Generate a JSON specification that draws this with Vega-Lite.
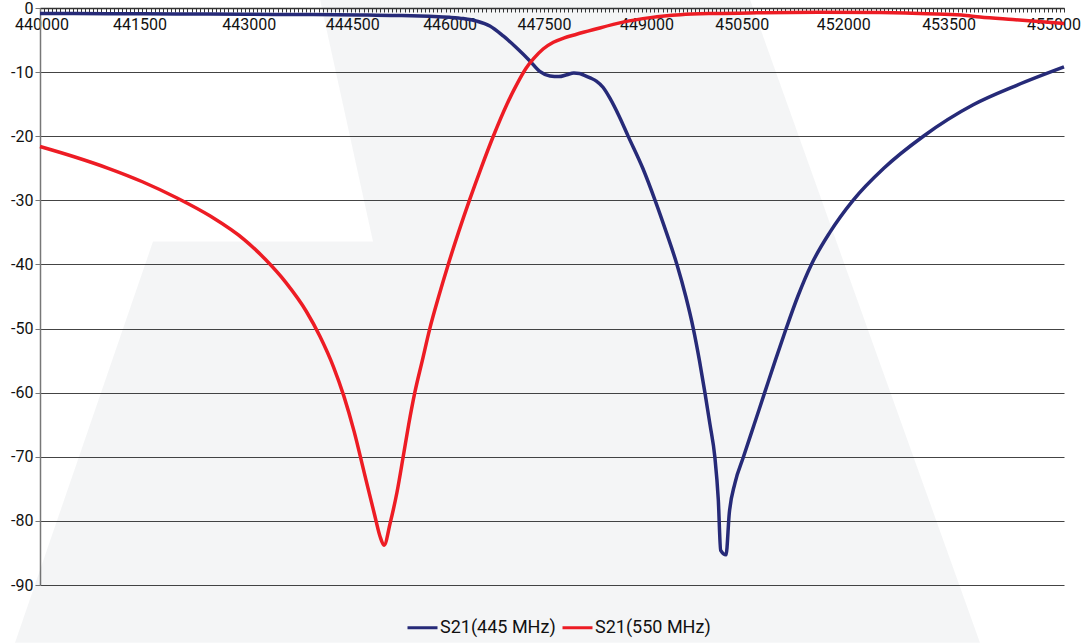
{
  "$schema": "https://vega.github.io/schema/vega-lite/v6.json",
  "width": 1024,
  "height": 577,
  "autosize": {"type": "none"},
  "padding": {"left": 40, "top": 8, "right": 22, "bottom": 58},
  "background": "white",
  "config": {"font": "Roboto", "view": {"stroke": null}},
  "encoding": {
    "x": {
      "field": "f",
      "type": "quantitative",
      "scale": {"domain": [440000, 455000], "nice": false, "zero": false},
      "axis": {
        "orient": "bottom",
        "offset": -577,
        "title": null,
        "grid": false,
        "values": [440000,440060,440120,440180,440240,440300,440360,440420,440480,440540,440600,440660,440720,440780,440840,440900,440960,441020,441080,441140,441200,441260,441320,441380,441440,
          441500,441560,441620,441680,441740,441800,441860,441920,441980,442040,442100,442160,442220,442280,442340,442400,442460,442520,442580,442640,442700,442760,442820,442880,442940,
          443000,443060,443120,443180,443240,443300,443360,443420,443480,443540,443600,443660,443720,443780,443840,443900,443960,444020,444080,444140,444200,444260,444320,444380,444440,
          444500,444560,444620,444680,444740,444800,444860,444920,444980,445040,445100,445160,445220,445280,445340,445400,445460,445520,445580,445640,445700,445760,445820,445880,445940,
          446000,446060,446120,446180,446240,446300,446360,446420,446480,446540,446600,446660,446720,446780,446840,446900,446960,447020,447080,447140,447200,447260,447320,447380,447440,
          447500,447560,447620,447680,447740,447800,447860,447920,447980,448040,448100,448160,448220,448280,448340,448400,448460,448520,448580,448640,448700,448760,448820,448880,448940,
          449000,449060,449120,449180,449240,449300,449360,449420,449480,449540,449600,449660,449720,449780,449840,449900,449960,450020,450080,450140,450200,450260,450320,450380,450440,
          450500,450560,450620,450680,450740,450800,450860,450920,450980,451040,451100,451160,451220,451280,451340,451400,451460,451520,451580,451640,451700,451760,451820,451880,451940,
          452000,452060,452120,452180,452240,452300,452360,452420,452480,452540,452600,452660,452720,452780,452840,452900,452960,453020,453080,453140,453200,453260,453320,453380,453440,
          453500,453560,453620,453680,453740,453800,453860,453920,453980,454040,454100,454160,454220,454280,454340,454400,454460,454520,454580,454640,454700,454760,454820,454880,454940,
          455000],
        "labelExpr": "(datum.value - 440000) % 1500 === 0 ? toString(datum.value) : ''",
        "labelOffset": {"expr": "datum.value === 440000 ? 1.5 : datum.value === 441500 ? -3 : datum.value === 443000 ? 4 : datum.value === 444500 ? 5 : datum.value === 447500 ? -8 : datum.value === 449000 ? -8 : datum.value === 450500 ? -15 : datum.value === 452000 ? -16 : datum.value === 453500 ? -13 : datum.value === 455000 ? -10.5 : 0"},
        "labelOverlap": false,
        "labelFlush": false,
        "labelBound": false,
        "labelFontSize": 16,
        "labelColor": "#111111",
        "labelPadding": 4,
        "tickSize": 4,
        "tickColor": "#333333",
        "tickWidth": 1,
        "domainColor": "#333333",
        "domainWidth": 1.5
      }
    },
    "y": {
      "field": "db",
      "type": "quantitative",
      "scale": {"domain": [-90, 0], "nice": false, "zero": false},
      "axis": {
        "orient": "left",
        "title": null,
        "values": [-90, -80, -70, -60, -50, -40, -30, -20, -10, 0],
        "labelExpr": "toString(datum.value)",
        "grid": true,
        "gridColor": "#444444",
        "gridWidth": 1,
        "tickSize": 5,
        "tickColor": "#777777",
        "domainColor": "#777777",
        "domainWidth": 1.5,
        "labelFontSize": 16,
        "labelColor": "#111111",
        "labelPadding": 2
      }
    }
  },
  "layer": [
    {
      "data": {"values": [
        {"db": -99.0, "f": 439634, "f2": 453769},
        {"db": -36.44, "f": 441655, "f2": 451666},
        {"db": -36.43, "f": 444878, "f2": 451666},
        {"db": 1.33, "f": 444101, "f2": 450400}
      ]},
      "mark": {"type": "area", "orient": "horizontal", "fill": "#263758", "opacity": 0.05, "clip": false},
      "encoding": {"x2": {"field": "f2"}}
    },
    {
      "data": {"values": [
        {"s": "S21(445 MHz)", "f": 440000, "db": -0.85},
        {"s": "S21(445 MHz)", "f": 441000, "db": -0.88},
        {"s": "S21(445 MHz)", "f": 442000, "db": -0.92},
        {"s": "S21(445 MHz)", "f": 443000, "db": -0.97},
        {"s": "S21(445 MHz)", "f": 444000, "db": -1.03},
        {"s": "S21(445 MHz)", "f": 444800, "db": -1.1},
        {"s": "S21(445 MHz)", "f": 445300, "db": -1.17},
        {"s": "S21(445 MHz)", "f": 445700, "db": -1.3},
        {"s": "S21(445 MHz)", "f": 446000, "db": -1.45},
        {"s": "S21(445 MHz)", "f": 446200, "db": -1.65},
        {"s": "S21(445 MHz)", "f": 446400, "db": -2.05},
        {"s": "S21(445 MHz)", "f": 446590, "db": -2.8},
        {"s": "S21(445 MHz)", "f": 446790, "db": -4.4},
        {"s": "S21(445 MHz)", "f": 446980, "db": -6.2},
        {"s": "S21(445 MHz)", "f": 447180, "db": -8.3},
        {"s": "S21(445 MHz)", "f": 447320, "db": -9.9},
        {"s": "S21(445 MHz)", "f": 447470, "db": -10.6},
        {"s": "S21(445 MHz)", "f": 447600, "db": -10.7},
        {"s": "S21(445 MHz)", "f": 447720, "db": -10.4},
        {"s": "S21(445 MHz)", "f": 447820, "db": -10.15},
        {"s": "S21(445 MHz)", "f": 447900, "db": -10.2},
        {"s": "S21(445 MHz)", "f": 447960, "db": -10.45},
        {"s": "S21(445 MHz)", "f": 448060, "db": -10.9},
        {"s": "S21(445 MHz)", "f": 448150, "db": -11.4},
        {"s": "S21(445 MHz)", "f": 448250, "db": -12.4},
        {"s": "S21(445 MHz)", "f": 448350, "db": -14.1},
        {"s": "S21(445 MHz)", "f": 448480, "db": -16.8},
        {"s": "S21(445 MHz)", "f": 448620, "db": -20.1},
        {"s": "S21(445 MHz)", "f": 448830, "db": -25.0},
        {"s": "S21(445 MHz)", "f": 449010, "db": -30.0},
        {"s": "S21(445 MHz)", "f": 449175, "db": -35.0},
        {"s": "S21(445 MHz)", "f": 449330, "db": -40.0},
        {"s": "S21(445 MHz)", "f": 449460, "db": -45.0},
        {"s": "S21(445 MHz)", "f": 449570, "db": -50.0},
        {"s": "S21(445 MHz)", "f": 449660, "db": -55.0},
        {"s": "S21(445 MHz)", "f": 449740, "db": -60.0},
        {"s": "S21(445 MHz)", "f": 449815, "db": -65.0},
        {"s": "S21(445 MHz)", "f": 449885, "db": -70.0},
        {"s": "S21(445 MHz)", "f": 449936, "db": -76.7},
        {"s": "S21(445 MHz)", "f": 449971, "db": -84.6},
        {"s": "S21(445 MHz)", "f": 450049, "db": -85.3},
        {"s": "S21(445 MHz)", "f": 450097, "db": -78.8},
        {"s": "S21(445 MHz)", "f": 450180, "db": -74.1},
        {"s": "S21(445 MHz)", "f": 450305, "db": -70.0},
        {"s": "S21(445 MHz)", "f": 450460, "db": -65.0},
        {"s": "S21(445 MHz)", "f": 450615, "db": -60.0},
        {"s": "S21(445 MHz)", "f": 450770, "db": -55.0},
        {"s": "S21(445 MHz)", "f": 450930, "db": -50.0},
        {"s": "S21(445 MHz)", "f": 451100, "db": -45.0},
        {"s": "S21(445 MHz)", "f": 451300, "db": -40.0},
        {"s": "S21(445 MHz)", "f": 451570, "db": -35.0},
        {"s": "S21(445 MHz)", "f": 451910, "db": -30.0},
        {"s": "S21(445 MHz)", "f": 452360, "db": -25.0},
        {"s": "S21(445 MHz)", "f": 452940, "db": -20.0},
        {"s": "S21(445 MHz)", "f": 453670, "db": -15.1},
        {"s": "S21(445 MHz)", "f": 454300, "db": -12.1},
        {"s": "S21(445 MHz)", "f": 455000, "db": -9.2},
        {"s": "S21(550 MHz)", "f": 440000, "db": -21.6},
        {"s": "S21(550 MHz)", "f": 440500, "db": -23.2},
        {"s": "S21(550 MHz)", "f": 441000, "db": -25.0},
        {"s": "S21(550 MHz)", "f": 441500, "db": -27.1},
        {"s": "S21(550 MHz)", "f": 442000, "db": -29.6},
        {"s": "S21(550 MHz)", "f": 442500, "db": -32.5},
        {"s": "S21(550 MHz)", "f": 443000, "db": -36.2},
        {"s": "S21(550 MHz)", "f": 443300, "db": -39.2},
        {"s": "S21(550 MHz)", "f": 443600, "db": -42.8},
        {"s": "S21(550 MHz)", "f": 443900, "db": -47.3},
        {"s": "S21(550 MHz)", "f": 444100, "db": -51.2},
        {"s": "S21(550 MHz)", "f": 444300, "db": -56.0},
        {"s": "S21(550 MHz)", "f": 444450, "db": -60.5},
        {"s": "S21(550 MHz)", "f": 444600, "db": -66.0},
        {"s": "S21(550 MHz)", "f": 444750, "db": -72.5},
        {"s": "S21(550 MHz)", "f": 444900, "db": -79.0},
        {"s": "S21(550 MHz)", "f": 444980, "db": -82.4},
        {"s": "S21(550 MHz)", "f": 445040, "db": -83.8},
        {"s": "S21(550 MHz)", "f": 445130, "db": -80.3},
        {"s": "S21(550 MHz)", "f": 445230, "db": -75.5},
        {"s": "S21(550 MHz)", "f": 445320, "db": -70.0},
        {"s": "S21(550 MHz)", "f": 445400, "db": -65.0},
        {"s": "S21(550 MHz)", "f": 445490, "db": -60.0},
        {"s": "S21(550 MHz)", "f": 445600, "db": -55.0},
        {"s": "S21(550 MHz)", "f": 445710, "db": -50.0},
        {"s": "S21(550 MHz)", "f": 445840, "db": -45.0},
        {"s": "S21(550 MHz)", "f": 445980, "db": -40.0},
        {"s": "S21(550 MHz)", "f": 446130, "db": -35.0},
        {"s": "S21(550 MHz)", "f": 446290, "db": -30.0},
        {"s": "S21(550 MHz)", "f": 446460, "db": -25.0},
        {"s": "S21(550 MHz)", "f": 446640, "db": -20.0},
        {"s": "S21(550 MHz)", "f": 446840, "db": -15.0},
        {"s": "S21(550 MHz)", "f": 447000, "db": -11.6},
        {"s": "S21(550 MHz)", "f": 447120, "db": -9.4},
        {"s": "S21(550 MHz)", "f": 447230, "db": -7.9},
        {"s": "S21(550 MHz)", "f": 447370, "db": -6.4},
        {"s": "S21(550 MHz)", "f": 447520, "db": -5.35},
        {"s": "S21(550 MHz)", "f": 447670, "db": -4.7},
        {"s": "S21(550 MHz)", "f": 447860, "db": -4.1},
        {"s": "S21(550 MHz)", "f": 448100, "db": -3.4},
        {"s": "S21(550 MHz)", "f": 448540, "db": -2.2},
        {"s": "S21(550 MHz)", "f": 448940, "db": -1.5},
        {"s": "S21(550 MHz)", "f": 449380, "db": -1.05},
        {"s": "S21(550 MHz)", "f": 449900, "db": -0.85},
        {"s": "S21(550 MHz)", "f": 450500, "db": -0.75},
        {"s": "S21(550 MHz)", "f": 451400, "db": -0.68},
        {"s": "S21(550 MHz)", "f": 452300, "db": -0.72},
        {"s": "S21(550 MHz)", "f": 453000, "db": -0.9},
        {"s": "S21(550 MHz)", "f": 453500, "db": -1.1},
        {"s": "S21(550 MHz)", "f": 453770, "db": -1.4},
        {"s": "S21(550 MHz)", "f": 454250, "db": -1.8},
        {"s": "S21(550 MHz)", "f": 455000, "db": -2.4}
      ]},
      "mark": {"type": "line", "interpolate": "monotone", "strokeWidth": 3.5},
      "encoding": {
        "color": {
          "field": "s",
          "type": "nominal",
          "scale": {"domain": ["S21(445 MHz)", "S21(550 MHz)"], "range": ["#262a78", "#ed1c24"]},
          "legend": {
            "orient": "none",
            "legendX": 366,
            "legendY": 603,
            "direction": "horizontal",
            "title": null,
            "symbolType": "stroke",
            "symbolSize": 900,
            "symbolStrokeWidth": 3,
            "labelFontSize": 18,
            "labelColor": "#111111",
            "labelOffset": 1,
            "labelLimit": 300,
            "columnPadding": 0,
            "padding": 0
          }
        }
      }
    }
  ]
}
